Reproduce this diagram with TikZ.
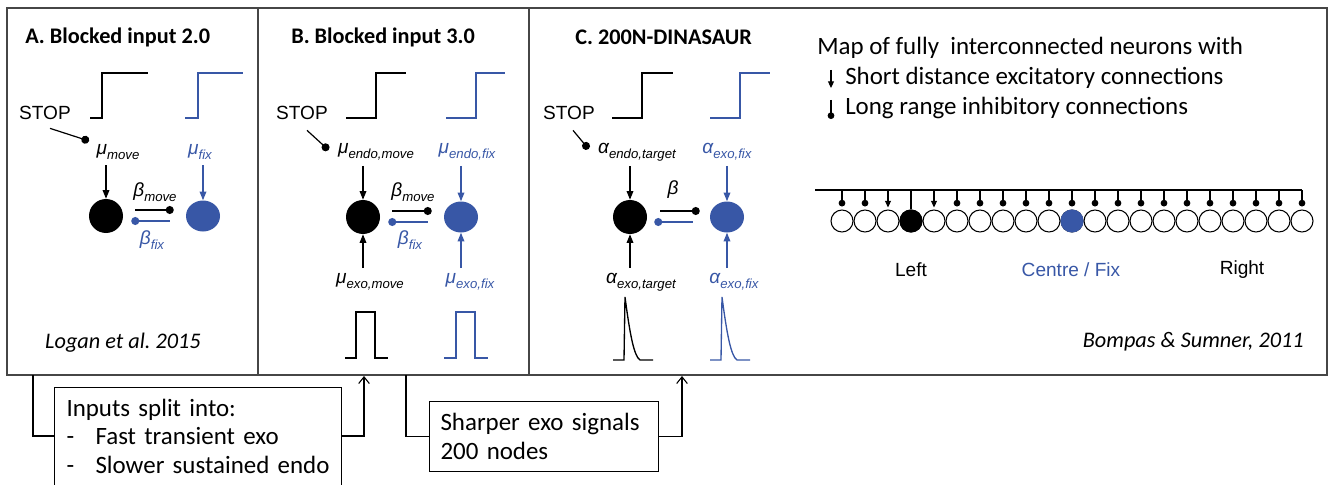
\documentclass[tikz,border=0pt]{standalone}
\usepackage{fontspec}
\setmainfont{Carlito}
\newfontfamily\arialfont{Liberation Sans}
\usepackage{xcolor}
\usepackage{tikz}
\usetikzlibrary{arrows.meta, calc, positioning, shapes.geometric}
\frenchspacing

\definecolor{fixblue}{RGB}{56,87,166}
\definecolor{framegray}{RGB}{70,70,70}

\newcommand{\nlab}[2]{{\arialfont\itshape #1\raisebox{-0.25em}{\fontsize{9.9}{10}\selectfont #2}}}

\tikzstyle{frame} = [draw=framegray, line width=1pt]
\tikzstyle{title} = [font=\bfseries\fontsize{16.7}{20}\selectfont, inner sep=0, anchor=west]
\tikzstyle{arialtxt} = [font=\arialfont\fontsize{14.3}{17}\selectfont, inner sep=1pt]
\tikzstyle{param} = [font=\fontsize{14.3}{17}\selectfont, inner sep=1pt]
\tikzstyle{citation} = [font=\itshape\fontsize{16.7}{20}\selectfont, inner sep=0]
\tikzstyle{maptxt} = [font=\fontsize{18.7}{22}\selectfont, inner sep=0, anchor=west]
\tikzstyle{target} = [circle, fill=black, minimum size=25.5pt, inner sep=0]
\tikzstyle{fixation} = [ellipse, fill=fixblue, minimum width=25.5pt, minimum height=23.25pt, inner sep=0]
\tikzstyle{neuron} = [circle, draw=black, line width=0.8pt, fill=white, minimum size=16.5pt, inner sep=0]
\tikzstyle{signal} = [line width=1pt]
\tikzstyle{wire} = [line width=0.9pt]
\tikzstyle{excit} = [-{Triangle[length=6.5pt, width=5pt]}, line width=0.9pt]
\tikzstyle{inhib} = [-{Circle[length=6pt]}, line width=0.9pt]
\tikzstyle{excsmall} = [-{Triangle[length=5pt, width=4.5pt]}, line width=0.8pt]
\tikzstyle{inhsmall} = [-{Circle[length=5pt]}, line width=0.8pt]
\tikzstyle{box} = [draw=black, line width=0.8pt, anchor=north west, align=left, inner xsep=9pt, font=\fontsize{18.7}{21.5}\selectfont]
\tikzstyle{link} = [line width=0.8pt]

\begin{document}
\begin{tikzpicture}[x=0.75pt, y=-0.75pt]
    \path[use as bounding box] (0,0) rectangle (1329,485);
    \clip (0,0) rectangle (1329,485);

    %% frame of the three panels
    \draw[frame] (7,8) rectangle (1327,375);
    \draw[frame] (258,8) -- (258,375);
    \draw[frame] (529,8) -- (529,375);

    %% panel A
    \node (titleA) [title] at (25,37) {A. Blocked input 2.0};
    \draw[signal] (90,118) -- (102,118) -- (102,73) -- (148,73);
    \draw[signal, fixblue] (185,118) -- (198,118) -- (198,73) -- (243,73);
    \node (stopA) [arialtxt] at (45,113) {STOP};
    \node (moveA) [param] at (118,152) {\nlab{μ}{move}};
    \node (fixA) [param, fixblue] at (200,152) {\nlab{μ}{fix}};
    \node (tgA) [target] at (106,216) {};
    \node (fxA) [fixation] at (203,216) {};
    \node (bmoveA) [param] at (155,192) {\nlab{β}{move}};
    \node (bfixA) [param, fixblue] at (152,240) {\nlab{β}{fix}};
    \draw[inhib] ($(stopA.south)+(5,7)$) -- ($(moveA.west)+(-6,-11)$);
    \draw[excit, shorten <=3pt] (moveA.south -| tgA) -- (tgA);
    \draw[excit, fixblue, shorten <=3pt] (fixA.south -| fxA) -- (fxA);
    \draw[inhib] ($(tgA.east)+(12,-6)$) -- ($(fxA.west)+(-12,-6)$);
    \draw[inhib, fixblue] ($(fxA.west)+(-16,5)$) -- ($(tgA.east)+(8,5)$);
    \node (logan) [citation] at (123,343) {Logan et al. 2015};

    %% panel B
    \node (titleB) [title] at (291,37) {B. Blocked input 3.0};
    \draw[signal] (346,118) -- (376,118) -- (376,73) -- (406,73);
    \draw[signal, fixblue] (446,118) -- (476,118) -- (476,73) -- (505,73);
    \node (stopB) [arialtxt] at (302,113) {STOP};
    \node (endoB) [param] at (376,152) {\nlab{μ}{endo,move}};
    \node (endofixB) [param, fixblue] at (467,152) {\nlab{μ}{endo,fix}};
    \node (tgB) [target] at (363,217) {};
    \node (fxB) [fixation] at (461,217) {};
    \node (bmoveB) [param] at (413,192) {\nlab{β}{move}};
    \node (bfixB) [param, fixblue] at (410,240) {\nlab{β}{fix}};
    \node (exoB) [param] at (370,282) {\nlab{μ}{exo,move}};
    \node (exofixB) [param, fixblue] at (470,282) {\nlab{μ}{exo,fix}};
    \draw[inhib] ($(stopB.south)+(5,9)$) -- ($(endoB.west)+(-8,-2)$);
    \draw[excit, shorten <=3pt] (endoB.south -| tgB) -- (tgB);
    \draw[excit, fixblue, shorten <=3pt] (endofixB.south -| fxB) -- (fxB);
    \draw[excit, shorten <=3pt] (exoB.north -| tgB) -- (tgB);
    \draw[excit, fixblue, shorten <=3pt] (exofixB.north -| fxB) -- (fxB);
    \draw[inhib] ($(tgB.east)+(12,-6)$) -- ($(fxB.west)+(-12,-6)$);
    \draw[inhib, fixblue] ($(fxB.west)+(-16,5)$) -- ($(tgB.east)+(8,5)$);
    \draw[signal] (345,358) -- (356,358) -- (356,312) -- (375,312) -- (375,358) -- (388,358);
    \draw[signal, fixblue] (444,358) -- (456,358) -- (456,312) -- (475,312) -- (475,358) -- (488,358);

    %% panel C
    \node (titleC) [title] at (575,37) {C. 200N-DINASAUR};
    \draw[signal] (612,118) -- (642,118) -- (642,73) -- (673,73);
    \draw[signal, fixblue] (710,118) -- (740,118) -- (740,73) -- (770,73);
    \node (stopC) [arialtxt] at (569,113) {STOP};
    \node (endoC) [param] at (637,152) {\nlab{α}{endo,target}};
    \node (exofixtopC) [param, fixblue] at (727,152) {\nlab{α}{exo,fix}};
    \node (tgC) [target] at (630,217) {};
    \node (fxC) [fixation] at (727,217) {};
    \node (betaC) [param] at (673,190) {\nlab{β}{}};
    \node (exoC) [param] at (641,282) {\nlab{α}{exo,target}};
    \node (exofixC) [param, fixblue] at (734,282) {\nlab{α}{exo,fix}};
    \draw[inhib] ($(stopC.south)+(4,9)$) -- ($(endoC.west)+(-8,-3)$);
    \draw[excit, shorten <=3pt] (endoC.south -| tgC) -- (tgC);
    \draw[excit, fixblue, shorten <=3pt] (exofixtopC.south -| fxC) -- (fxC);
    \draw[excit, shorten <=3pt] (exoC.north -| tgC) -- (tgC);
    \draw[excit, fixblue, shorten <=3pt] (exofixC.north -| fxC) -- (fxC);
    \draw[inhib] ($(tgC.east)+(13,-6)$) -- ($(fxC.west)+(-10,-6)$);
    \draw[inhib, fixblue] ($(fxC.west)+(-17,5)$) -- ($(tgC.east)+(7,5)$);
    \draw[signal] (613,360) -- (624,360) -- (625,297) .. controls (630,335) and (634,356) .. (640,360) -- (653,360);
    \draw[signal, fixblue] (710,360) -- (721,360) -- (722,297) .. controls (727,335) and (731,356) .. (737,360) -- (750,360);

    %% map of neurons
    \node (mapT) [maptxt] at (817,48) {Map of fully~ interconnected neurons with};
    \node (excT) [maptxt] at (845,78) {Short distance excitatory connections};
    \node (inhT) [maptxt] at (845,108) {Long range inhibitory connections};
    \draw[excsmall] ($(excT.west)+(-14,-8)$) -- ($(excT.west)+(-14,10)$);
    \draw[inhsmall] ($(inhT.west)+(-14,-8)$) -- ($(inhT.west)+(-14,11)$);

    \coordinate (busL) at (815,190);
    \coordinate (busR) at (1302,190);
    \draw[wire] (busL) -- (busR);
    \foreach \i in {0,...,20}
        \node (n\i) [neuron] at ({842+23*\i},221) {};
    \node (nleft) [neuron, fill=black] at (n3) {};
    \node (ncentre) [neuron, fill=fixblue, draw=fixblue] at (n10) {};
    \foreach \i in {0,1,5,6,...,20}
        \draw[inhsmall] (n\i |- busL) -- ($(n\i.north)+(0,-3)$);
    \foreach \i in {2,4}
        \draw[excsmall] (n\i |- busL) -- ($(n\i.north)+(0,-2)$);
    \draw[wire] (n3 |- busL) -- (nleft.north);

    \node (left) [arialtxt] at (911,270) {Left};
    \node (centre) [arialtxt, fixblue] at (1071,270) {Centre / Fix};
    \node (right) [arialtxt] at (1242,270) {Right};
    \node (bompas) [citation, anchor=east] at (1304,342) {Bompas \& Sumner, 2011};

    %% changes from one panel to the next
    \node (splitbox) [box, text width=197.25pt, inner ysep=8.5pt] at (54,387)
        {Inputs split into:\\ \makebox[21.75pt][l]{-}Fast transient exo\\ \makebox[21.75pt][l]{-}Slower sustained endo\rule[-14pt]{0pt}{14pt}};
    \node (sharpbox) [box, text width=155.25pt, inner xsep=8.25pt, minimum height=52.5pt] at (429,401)
        {Sharper exo signals\\ 200 nodes};
    \coordinate (outA) at (33,375);
    \coordinate (inB) at (364,376);
    \coordinate (outB) at (406,375);
    \coordinate (inC) at (682,376);
    \draw[link] (outA) |- ($(splitbox.north west)+(0,49)$);
    \draw[link, -{Straight Barb[length=5pt, width=8pt]}] ($(splitbox.north east)+(0,49)$) -| (inB);
    \draw[link] (outB) |- (sharpbox.west);
    \draw[link, -{Straight Barb[length=5pt, width=8pt]}] (sharpbox.east) -| (inC);
\end{tikzpicture}
\end{document}
